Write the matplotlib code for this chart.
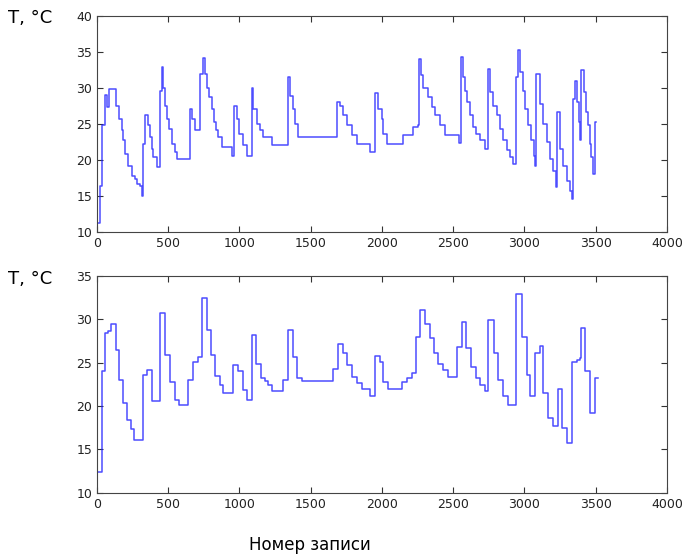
import numpy as np
import matplotlib.pyplot as plt

# upper record: step start index and temperature held until the next step
top_n = [0, 21, 33, 56, 70, 87, 133, 157, 173, 185, 196, 220, 243, 267, 278, 302, 313,
         325, 337, 360, 372, 384, 395, 419, 442, 454, 465, 477, 489, 508, 524, 547, 564,
         653, 664, 688, 723, 746, 758, 770, 788, 805, 821, 835, 851, 875, 945, 961, 980,
         999, 1022, 1050, 1085, 1097, 1120, 1144, 1167, 1226, 1343, 1354, 1378, 1389, 1413,
         1682, 1705, 1729, 1752, 1787, 1822, 1916, 1951, 1974, 1998, 2010, 2033, 2150, 2220,
         2255, 2262, 2271, 2290, 2325, 2349, 2372, 2407, 2442, 2540, 2555, 2568, 2580, 2599,
         2618, 2641, 2664, 2688, 2723, 2746, 2758, 2781, 2805, 2828, 2851, 2875, 2898, 2917,
         2940, 2957, 2968, 2987, 3003, 3027, 3050, 3067, 3074, 3081, 3109, 3132, 3156, 3179,
         3202, 3221, 3230, 3249, 3272, 3296, 3319, 3331, 3338, 3354, 3366, 3385, 3394, 3401,
         3417, 3431, 3448, 3460, 3471, 3483, 3495, 3502]
top_t = [11.3, 16.4, 24.8, 29.0, 27.3, 29.8, 27.5, 25.7, 24.1, 22.7, 20.8, 19.2, 17.8, 17.4,
         16.7, 16.4, 15.0, 22.2, 26.2, 24.8, 23.1, 21.5, 20.4, 19.0, 29.6, 32.9, 29.9, 27.5,
         25.7, 24.3, 22.2, 21.1, 20.1, 27.1, 25.7, 24.1, 31.9, 34.1, 31.9, 29.9, 28.7, 27.1,
         25.2, 24.1, 23.1, 21.8, 20.6, 27.5, 25.7, 23.6, 22.0, 20.6, 29.9, 27.1, 25.0, 24.1,
         23.1, 22.0, 31.5, 28.9, 27.1, 25.0, 23.1, 28.0, 27.5, 26.2, 24.8, 23.4, 22.2, 21.1,
         29.2, 27.1, 25.7, 23.6, 22.2, 23.4, 24.5, 24.8, 34.0, 31.7, 29.9, 28.7, 27.3, 26.2,
         24.8, 23.4, 22.4, 34.2, 31.5, 29.6, 28.0, 26.2, 24.5, 23.6, 22.7, 21.5, 32.6, 29.4,
         27.5, 26.2, 24.3, 22.7, 21.3, 20.4, 19.4, 31.5, 35.2, 32.2, 29.6, 27.1, 24.8, 22.7,
         20.6, 19.2, 31.9, 27.8, 25.0, 22.5, 20.1, 18.5, 16.2, 26.6, 21.5, 19.2, 17.1, 15.7,
         14.6, 28.5, 31.0, 28.0, 25.2, 22.7, 32.4, 29.4, 26.6, 24.8, 22.2, 20.4, 18.1, 25.2,
         25.2]

# lower record, same layout
bot_n = [0, 33, 56, 80, 98, 133, 157, 185, 213, 236, 260, 325, 353, 384, 442, 477, 512, 547,
         578, 641, 671, 711, 735, 770, 798, 828, 863, 887, 957, 992, 1022, 1050, 1085, 1116,
         1149, 1179, 1202, 1226, 1308, 1343, 1378, 1406, 1436, 1658, 1694, 1729, 1757, 1787,
         1822, 1857, 1916, 1951, 1986, 2009, 2044, 2138, 2173, 2208, 2239, 2267, 2302, 2337,
         2365, 2395, 2430, 2465, 2524, 2559, 2589, 2622, 2660, 2688, 2723, 2746, 2786, 2816,
         2847, 2882, 2940, 2980, 3015, 3043, 3074, 3109, 3132, 3167, 3198, 3237, 3265, 3296,
         3331, 3366, 3389, 3401, 3425, 3460, 3495, 3518]
bot_t = [12.4, 24.0, 28.4, 28.7, 29.5, 26.5, 23.0, 20.3, 18.4, 17.4, 16.1, 23.6, 24.2, 20.6,
         30.7, 25.9, 22.8, 20.7, 20.1, 23.0, 25.1, 25.6, 32.5, 28.8, 25.9, 23.5, 22.4, 21.5,
         24.7, 24.0, 21.8, 20.7, 28.2, 24.9, 23.2, 22.9, 22.4, 21.7, 23.0, 28.8, 25.7, 23.2,
         22.9, 24.3, 27.2, 26.1, 24.7, 23.4, 22.6, 22.0, 21.1, 25.8, 25.1, 22.8, 22.0, 22.8,
         23.2, 23.8, 28.0, 31.1, 29.5, 27.8, 26.1, 24.9, 24.2, 23.4, 26.8, 29.7, 26.7, 24.5,
         23.2, 22.4, 21.7, 29.9, 26.1, 23.0, 21.2, 20.1, 32.9, 28.0, 23.6, 21.1, 26.1, 26.9,
         21.5, 18.6, 17.7, 22.0, 17.5, 15.7, 25.1, 25.3, 25.5, 29.0, 24.0, 19.2, 23.2, 23.2]

fig = plt.figure(figsize=(6.89, 5.57), dpi=100)
ax1 = fig.add_axes([0.1408, 0.5835, 0.827, 0.3885])
ax2 = fig.add_axes([0.1408, 0.1154, 0.827, 0.3891])

for ax, n, t, ylim in [(ax1, top_n, top_t, (10, 40)), (ax2, bot_n, bot_t, (10, 35))]:
    ax.plot(n, t, drawstyle='steps-post', color='#2020ff', lw=1.1, alpha=0.8)
    ax.set_xlim(0, 4000)
    ax.set_ylim(*ylim)
    ax.set_xticks(np.arange(0, 4001, 500))
    ax.set_yticks(np.arange(ylim[0], ylim[1] + 1, 5))
    ax.tick_params(direction='in', top=True, right=True, labelsize=9, length=4,
                   color='#333333', labelcolor='#222222')
    for s in ax.spines.values():
        s.set_color('#444444')

fig.text(0.012, 0.958, 'T, °C', fontsize=13)
fig.text(0.012, 0.49, 'T, °C', fontsize=13)
fig.text(0.45, 0.012, 'Номер записи', fontsize=12, ha='center')

fig.savefig('out.png', dpi=100)
